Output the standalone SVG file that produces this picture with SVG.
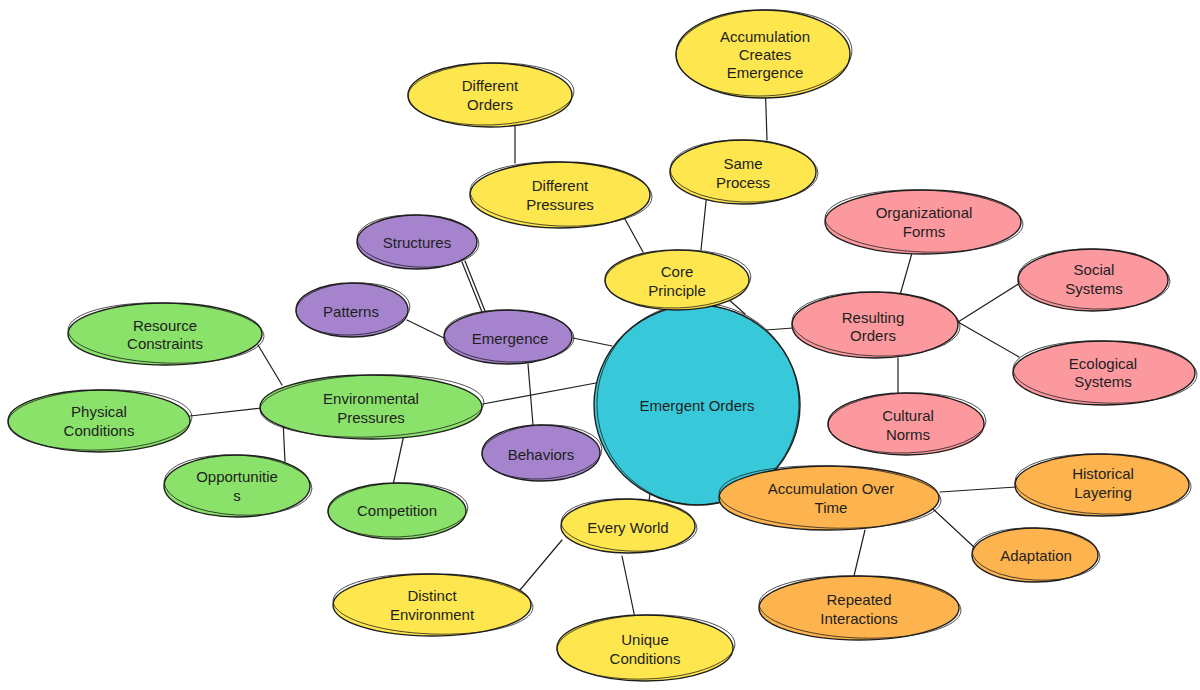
<svg xmlns="http://www.w3.org/2000/svg" width="1200" height="690" viewBox="0 0 1200 690">
<style>
.bg{fill:#ffffff}
.edges line{stroke:#1e1e1e;stroke-width:1.2;stroke-linecap:round;fill:none}
.node .f{stroke:none}
.node .s1{fill:none;stroke:#1e1e1e;stroke-width:1.4}
.node .s2{fill:none;stroke:#1e1e1e;stroke-width:0.9;opacity:0.85}
.node text{font-family:"Liberation Sans",Arial,sans-serif;font-size:15px;fill:#1e1e1e;text-anchor:middle;dominant-baseline:central}
.y .f{fill:#fde64e}
.p .f{fill:#a584cd}
.g .f{fill:#8be26a}
.r .f{fill:#fb999f}
.o .f{fill:#fdb44f}
.c .f{fill:#37c9d9}
</style>
<rect class="bg" x="0" y="0" width="1200" height="690"/>
<g id="connectors" class="edges">
<line x1="727" y1="298" x2="745" y2="314"/>
<line x1="620" y1="210" x2="643" y2="252"/>
<line x1="707" y1="192" x2="701" y2="250"/>
<line x1="765" y1="78" x2="767" y2="140"/>
<line x1="515" y1="117" x2="515" y2="163"/>
<line x1="573" y1="338" x2="612" y2="346"/>
<line x1="462" y1="262" x2="482" y2="312"/>
<line x1="465" y1="261" x2="485" y2="311"/>
<line x1="407" y1="320" x2="448" y2="340"/>
<line x1="528" y1="364" x2="533" y2="425"/>
<line x1="483" y1="404" x2="596" y2="383"/>
<line x1="258" y1="345" x2="282" y2="385"/>
<line x1="190" y1="416" x2="262" y2="408"/>
<line x1="283" y1="420" x2="285" y2="462"/>
<line x1="405" y1="430" x2="393" y2="485"/>
<line x1="766" y1="330" x2="793" y2="328"/>
<line x1="912" y1="253" x2="900" y2="295"/>
<line x1="958" y1="322" x2="1020" y2="283"/>
<line x1="958" y1="322" x2="1019" y2="357"/>
<line x1="898" y1="358" x2="898" y2="395"/>
<line x1="650" y1="492" x2="649" y2="503"/>
<line x1="562" y1="540" x2="520" y2="590"/>
<line x1="622" y1="556" x2="635" y2="618"/>
<line x1="940" y1="492" x2="1016" y2="487"/>
<line x1="932" y1="508" x2="975" y2="548"/>
<line x1="865" y1="530" x2="853" y2="580"/>
</g>

<g id="n-emergent-orders" class="node c">
<ellipse class="f" cx="697" cy="405" rx="103" ry="100"/>
<ellipse class="s1" cx="697" cy="405" rx="103" ry="100"/>
<ellipse class="s2" cx="698" cy="404" rx="101" ry="101" transform="rotate(-3 697 405)"/>
<text x="697" y="405">Emergent Orders</text>
</g>

<g id="n-core-principle" class="node y">
<ellipse class="f" cx="677" cy="280" rx="72" ry="30"/>
<ellipse class="s1" cx="677" cy="280" rx="72" ry="30"/>
<ellipse class="s2" cx="678" cy="279" rx="73" ry="29" transform="rotate(-2 677 280)"/>
<text x="677" y="271">Core</text>
<text x="677" y="290">Principle</text>
</g>

<g id="n-different-pressures" class="node y">
<ellipse class="f" cx="560" cy="195" rx="90" ry="33"/>
<ellipse class="s1" cx="560" cy="195" rx="90" ry="33"/>
<ellipse class="s2" cx="561" cy="194" rx="91" ry="32" transform="rotate(2 560 195)"/>
<text x="560" y="185">Different</text>
<text x="560" y="204">Pressures</text>
</g>

<g id="n-different-orders" class="node y">
<ellipse class="f" cx="490" cy="95" rx="82" ry="32"/>
<ellipse class="s1" cx="490" cy="95" rx="82" ry="32"/>
<ellipse class="s2" cx="491" cy="94" rx="83" ry="31" transform="rotate(-2 490 95)"/>
<text x="490" y="85">Different</text>
<text x="490" y="104">Orders</text>
</g>

<g id="n-same-process" class="node y">
<ellipse class="f" cx="743" cy="172" rx="73" ry="32"/>
<ellipse class="s1" cx="743" cy="172" rx="73" ry="32"/>
<ellipse class="s2" cx="744" cy="171" rx="74" ry="31" transform="rotate(2 743 172)"/>
<text x="743" y="163">Same</text>
<text x="743" y="182">Process</text>
</g>

<g id="n-accumulation-creates-emergence" class="node y">
<ellipse class="f" cx="763" cy="54" rx="87" ry="44"/>
<ellipse class="s1" cx="763" cy="54" rx="87" ry="44"/>
<ellipse class="s2" cx="764" cy="53" rx="88" ry="43" transform="rotate(-2 763 54)"/>
<text x="765" y="36">Accumulation</text>
<text x="765" y="54">Creates</text>
<text x="765" y="72">Emergence</text>
</g>

<g id="n-structures" class="node p">
<ellipse class="f" cx="417" cy="242" rx="60" ry="27"/>
<ellipse class="s1" cx="417" cy="242" rx="60" ry="27"/>
<ellipse class="s2" cx="418" cy="241" rx="61" ry="26" transform="rotate(3 417 242)"/>
<text x="417" y="242">Structures</text>
</g>

<g id="n-patterns" class="node p">
<ellipse class="f" cx="352" cy="310" rx="56" ry="27"/>
<ellipse class="s1" cx="352" cy="310" rx="56" ry="27"/>
<ellipse class="s2" cx="353" cy="309" rx="57" ry="26" transform="rotate(-3 352 310)"/>
<text x="351" y="311">Patterns</text>
</g>

<g id="n-emergence" class="node p">
<ellipse class="f" cx="508" cy="337" rx="64" ry="27"/>
<ellipse class="s1" cx="508" cy="337" rx="64" ry="27"/>
<ellipse class="s2" cx="509" cy="336" rx="65" ry="26" transform="rotate(2 508 337)"/>
<text x="510" y="338">Emergence</text>
</g>

<g id="n-behaviors" class="node p">
<ellipse class="f" cx="541" cy="453" rx="59" ry="28"/>
<ellipse class="s1" cx="541" cy="453" rx="59" ry="28"/>
<ellipse class="s2" cx="542" cy="452" rx="60" ry="27" transform="rotate(-3 541 453)"/>
<text x="541" y="454">Behaviors</text>
</g>

<g id="n-environmental-pressures" class="node g">
<ellipse class="f" cx="371" cy="407" rx="111" ry="32"/>
<ellipse class="s1" cx="371" cy="407" rx="111" ry="32"/>
<ellipse class="s2" cx="372" cy="406" rx="112" ry="31" transform="rotate(-2 371 407)"/>
<text x="371" y="398">Environmental</text>
<text x="371" y="417">Pressures</text>
</g>

<g id="n-resource-constraints" class="node g">
<ellipse class="f" cx="165" cy="334" rx="97" ry="31"/>
<ellipse class="s1" cx="165" cy="334" rx="97" ry="31"/>
<ellipse class="s2" cx="166" cy="333" rx="98" ry="30" transform="rotate(2 165 334)"/>
<text x="165" y="325">Resource</text>
<text x="165" y="343">Constraints</text>
</g>

<g id="n-physical-conditions" class="node g">
<ellipse class="f" cx="99" cy="421" rx="91" ry="31"/>
<ellipse class="s1" cx="99" cy="421" rx="91" ry="31"/>
<ellipse class="s2" cx="100" cy="420" rx="92" ry="30" transform="rotate(-2 99 421)"/>
<text x="99" y="411">Physical</text>
<text x="99" y="430">Conditions</text>
</g>

<g id="n-opportunities" class="node g">
<ellipse class="f" cx="237" cy="486" rx="73" ry="31"/>
<ellipse class="s1" cx="237" cy="486" rx="73" ry="31"/>
<ellipse class="s2" cx="238" cy="485" rx="74" ry="30" transform="rotate(3 237 486)"/>
<text x="237" y="476">Opportunitie</text>
<text x="237" y="495">s</text>
</g>

<g id="n-competition" class="node g">
<ellipse class="f" cx="397" cy="511" rx="69" ry="28"/>
<ellipse class="s1" cx="397" cy="511" rx="69" ry="28"/>
<ellipse class="s2" cx="398" cy="510" rx="70" ry="27" transform="rotate(-2 397 511)"/>
<text x="397" y="510">Competition</text>
</g>

<g id="n-resulting-orders" class="node r">
<ellipse class="f" cx="875" cy="325" rx="83" ry="33"/>
<ellipse class="s1" cx="875" cy="325" rx="83" ry="33"/>
<ellipse class="s2" cx="876" cy="324" rx="84" ry="32" transform="rotate(2 875 325)"/>
<text x="873" y="317">Resulting</text>
<text x="873" y="335">Orders</text>
</g>

<g id="n-organizational-forms" class="node r">
<ellipse class="f" cx="923" cy="222" rx="98" ry="32"/>
<ellipse class="s1" cx="923" cy="222" rx="98" ry="32"/>
<ellipse class="s2" cx="924" cy="221" rx="99" ry="31" transform="rotate(2 923 222)"/>
<text x="924" y="212">Organizational</text>
<text x="924" y="231">Forms</text>
</g>

<g id="n-social-systems" class="node r">
<ellipse class="f" cx="1093" cy="280" rx="75" ry="31"/>
<ellipse class="s1" cx="1093" cy="280" rx="75" ry="31"/>
<ellipse class="s2" cx="1094" cy="279" rx="76" ry="30" transform="rotate(2 1093 280)"/>
<text x="1094" y="269">Social</text>
<text x="1094" y="288">Systems</text>
</g>

<g id="n-ecological-systems" class="node r">
<ellipse class="f" cx="1104" cy="373" rx="91" ry="32"/>
<ellipse class="s1" cx="1104" cy="373" rx="91" ry="32"/>
<ellipse class="s2" cx="1105" cy="372" rx="92" ry="31" transform="rotate(2 1104 373)"/>
<text x="1103" y="363">Ecological</text>
<text x="1103" y="381">Systems</text>
</g>

<g id="n-cultural-norms" class="node r">
<ellipse class="f" cx="906" cy="424" rx="78" ry="31"/>
<ellipse class="s1" cx="906" cy="424" rx="78" ry="31"/>
<ellipse class="s2" cx="907" cy="423" rx="79" ry="30" transform="rotate(-2 906 424)"/>
<text x="908" y="415">Cultural</text>
<text x="908" y="434">Norms</text>
</g>

<g id="n-accumulation-over-time" class="node o">
<ellipse class="f" cx="829" cy="498" rx="110" ry="32"/>
<ellipse class="s1" cx="829" cy="498" rx="110" ry="32"/>
<ellipse class="s2" cx="830" cy="497" rx="111" ry="31" transform="rotate(2 829 498)"/>
<text x="831" y="488">Accumulation Over</text>
<text x="831" y="507">Time</text>
</g>

<g id="n-historical-layering" class="node o">
<ellipse class="f" cx="1102" cy="485" rx="87" ry="31"/>
<ellipse class="s1" cx="1102" cy="485" rx="87" ry="31"/>
<ellipse class="s2" cx="1103" cy="484" rx="88" ry="30" transform="rotate(2 1102 485)"/>
<text x="1103" y="473">Historical</text>
<text x="1103" y="492">Layering</text>
</g>

<g id="n-adaptation" class="node o">
<ellipse class="f" cx="1035" cy="555" rx="63" ry="27"/>
<ellipse class="s1" cx="1035" cy="555" rx="63" ry="27"/>
<ellipse class="s2" cx="1036" cy="554" rx="64" ry="26" transform="rotate(3 1035 555)"/>
<text x="1036" y="555">Adaptation</text>
</g>

<g id="n-repeated-interactions" class="node o">
<ellipse class="f" cx="859" cy="608" rx="100" ry="32"/>
<ellipse class="s1" cx="859" cy="608" rx="100" ry="32"/>
<ellipse class="s2" cx="860" cy="607" rx="101" ry="31" transform="rotate(2 859 608)"/>
<text x="859" y="599">Repeated</text>
<text x="859" y="618">Interactions</text>
</g>

<g id="n-every-world" class="node y">
<ellipse class="f" cx="628" cy="526" rx="67" ry="27"/>
<ellipse class="s1" cx="628" cy="526" rx="67" ry="27"/>
<ellipse class="s2" cx="629" cy="525" rx="68" ry="26" transform="rotate(3 628 526)"/>
<text x="628" y="527">Every World</text>
</g>

<g id="n-distinct-environment" class="node y">
<ellipse class="f" cx="432" cy="605" rx="99" ry="31"/>
<ellipse class="s1" cx="432" cy="605" rx="99" ry="31"/>
<ellipse class="s2" cx="433" cy="604" rx="100" ry="30" transform="rotate(2 432 605)"/>
<text x="432" y="595">Distinct</text>
<text x="432" y="614">Environment</text>
</g>

<g id="n-unique-conditions" class="node y">
<ellipse class="f" cx="645" cy="648" rx="88" ry="33"/>
<ellipse class="s1" cx="645" cy="648" rx="88" ry="33"/>
<ellipse class="s2" cx="646" cy="647" rx="89" ry="32" transform="rotate(-2 646 648)"/>
<text x="645" y="639">Unique</text>
<text x="645" y="658">Conditions</text>
</g>
</svg>
